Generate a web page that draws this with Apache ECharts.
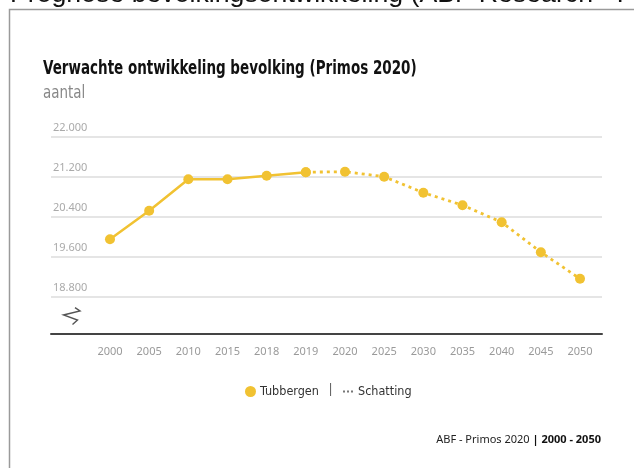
<!DOCTYPE html>
<html>
<head>
<meta charset="utf-8">
<script src="https://cdn.jsdelivr.net/npm/echarts@6/dist/echarts.min.js"></script>
<style>
html,body{margin:0;padding:0;background:#fff;}
#chart{width:634px;height:468px;}
</style>
</head>
<body>
<div id="chart"></div>
<script>
const categories = ['2000','2005','2010','2015','2018','2019','2020','2025','2030','2035','2040','2045','2050'];
const tubbergen = [19950, 20520, 21150, 21150, 21220, 21290, null, null, null, null, null, null, null];
const schatting = [null, null, null, null, null, 21290, 21300, 21200, 20880, 20630, 20290, 19690, 19160];
const yMin = 18800, yMax = 22000, yStep = 800;
const pageTitle = 'Prognose bevolkingsontwikkeling (ABF Research - Primos 2020)';
const chartTitle = 'Verwachte ontwikkeling bevolking (Primos 2020)';
const chartSubtitle = 'aantal';
const sourceText = 'ABF - Primos 2020';
const periodText = '2000 - 2050';

const YELLOW = '#F1C232';
const COND = '"DejaVu Sans Condensed", "Noto Sans", sans-serif';
const fmt = v => String(v).replace(/\B(?=(\d{3})+(?!\d))/g, '.');

const chart = echarts.init(document.getElementById('chart'), null, {renderer: 'canvas'});
chart.setOption({
  animation: false,
  backgroundColor: '#fff',
  grid: [
    {left: 90.4, right: 34.4, top: 136.7, height: 160},
    {left: 51, right: 32, top: 136.7, height: 160}
  ],
  xAxis: [
    {
      type: 'category', gridIndex: 0, data: categories, boundaryGap: true,
      offset: 37,
      axisLine: {show: false}, axisTick: {show: false},
      axisLabel: {color: '#9a9a9a', fontSize: 11, fontFamily: 'Noto Sans', margin: 13, interval: 0}
    },
    {
      type: 'value', gridIndex: 1, min: 0, max: 1, offset: 37,
      axisLine: {show: true, lineStyle: {color: '#444', width: 2}},
      axisTick: {show: false}, axisLabel: {show: false}, splitLine: {show: false}
    }
  ],
  yAxis: [
    {
      type: 'value', gridIndex: 0, min: yMin, max: yMax, interval: yStep,
      axisLine: {show: false}, axisTick: {show: false}, axisLabel: {show: false}, splitLine: {show: false}
    },
    {
      type: 'value', gridIndex: 1, min: yMin, max: yMax, interval: yStep,
      axisLine: {show: false}, axisTick: {show: false},
      splitLine: {show: true, lineStyle: {color: '#dcdcdc', width: 1.5}},
      axisLabel: {
        inside: true, margin: 2, align: 'left', verticalAlign: 'bottom',
        padding: [0, 0, 3, 0],
        color: '#aaaaaa', fontSize: 11, fontFamily: 'Noto Sans',
        formatter: fmt
      }
    }
  ],
  legend: [
    {
      data: [{name: 'Tubbergen', icon: 'circle'}],
      left: 240, top: 380, itemWidth: 11, itemHeight: 11, itemGap: 4,
      textStyle: {color: '#333', fontSize: 12.5, fontFamily: COND, padding: [0,0,0,-1]},
      selectedMode: false
    },
    {
      data: [{name: 'Schatting', icon: 'path://M0,0h2v2h-2zM4,0h2v2h-2zM8,0h2v2h-2z', itemStyle: {color: '#777'}}],
      left: 338, top: 380, itemWidth: 10, itemHeight: 2.2, itemGap: 5,
      textStyle: {color: '#333', fontSize: 12.5, fontFamily: COND},
      selectedMode: false
    }
  ],
  series: [
    {
      name: 'Tubbergen', type: 'line', xAxisIndex: 0, yAxisIndex: 0,
      data: tubbergen, symbol: 'circle', symbolSize: 10, showSymbol: true,
      itemStyle: {color: YELLOW}, lineStyle: {color: YELLOW, width: 2.5},
      connectNulls: false, z: 3
    },
    {
      name: 'Schatting', type: 'line', xAxisIndex: 0, yAxisIndex: 0,
      data: schatting, symbol: 'circle', symbolSize: 10, showSymbol: true,
      itemStyle: {color: YELLOW}, lineStyle: {color: YELLOW, width: 2.8, type: [3, 4]},
      connectNulls: false, z: 3
    }
  ],
  graphic: [
    {type: 'text', x: 10, y: -19, style: {text: pageTitle, font: '26.7px "Liberation Sans", Arial, sans-serif', fill: '#111'}},
    {type: 'polyline', shape: {points: [[9.5, 468], [9.5, 9.5], [634, 9.5]]}, style: {stroke: '#9a9a9a', lineWidth: 1.5, fill: null}},
    {type: 'text', x: 43, y: 60, scaleX: 0.79, style: {text: chartTitle, font: 'bold 19px ' + COND, fill: '#111'}},
    {type: 'text', x: 43, y: 84, scaleX: 0.83, style: {text: chartSubtitle, font: '18px ' + COND, fill: '#888'}},
    {type: 'polyline', shape: {points: [[75, 307.7], [80, 311], [63.5, 315], [77.5, 320], [72.5, 324.5]]}, style: {stroke: '#555', lineWidth: 1.4, fill: null}},
    {type: 'text', x: 327, y: 383, style: {text: '|', font: '13px "Noto Sans"', fill: '#555'}},
    {type: 'text', right: 33, top: 434, style: {
      text: '{a|' + sourceText + ' }{b||}{b| ' + periodText + '}',
      rich: {
        a: {fontFamily: 'Noto Sans', fontSize: 11, fill: '#222', color: '#222'},
        b: {fontFamily: 'Noto Sans', fontSize: 11, fontWeight: 'bold', fill: '#111', color: '#111'}
      }
    }}
  ]
});
</script>
</body>
</html>
